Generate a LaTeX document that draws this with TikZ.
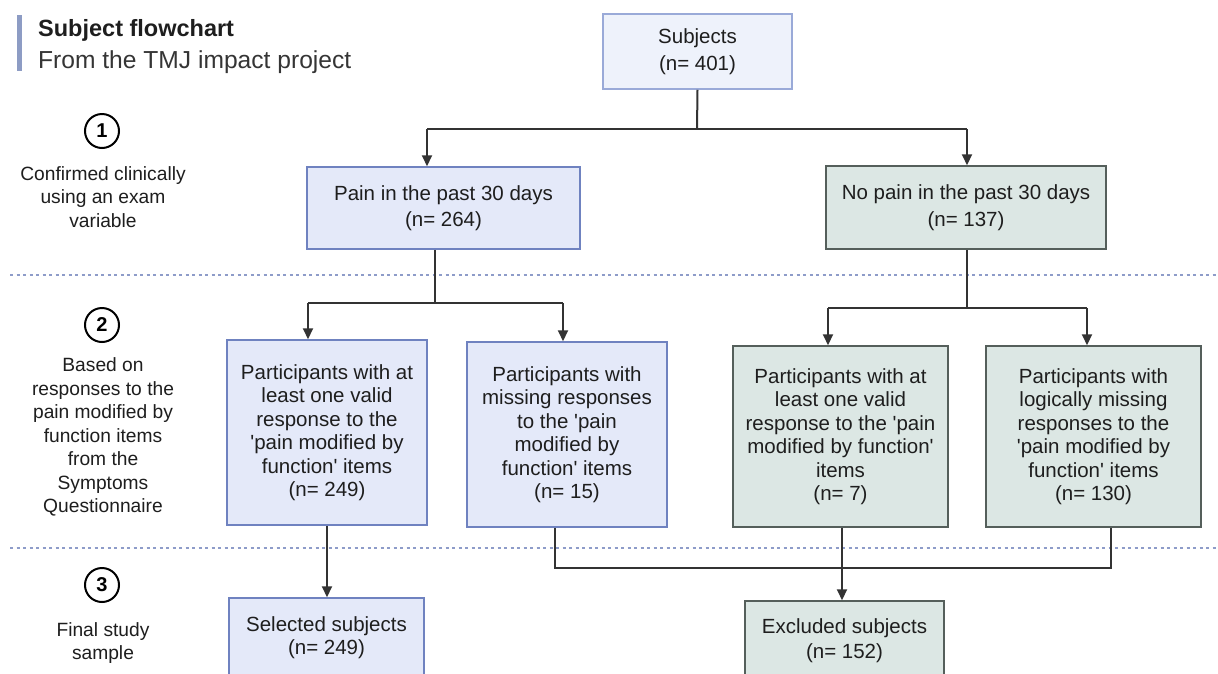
\documentclass[tikz,border=0pt]{standalone}
\usepackage{fontspec}
\setmainfont{Liberation Sans}[Ligatures=TeXOff]
\usetikzlibrary{arrows.meta}
\definecolor{txt}{HTML}{1E1E1E}
\definecolor{lnc}{HTML}{333333}
\definecolor{barc}{HTML}{8D9CC4}
\definecolor{dashc}{HTML}{8E9CC9}
\definecolor{subjfill}{HTML}{EEF2FB}
\definecolor{subjdraw}{HTML}{9AAAD8}
\definecolor{bluefill}{HTML}{E4E9F9}
\definecolor{bluedraw}{HTML}{6F82C0}
\definecolor{greenfill}{HTML}{DCE7E4}
\definecolor{greendraw}{HTML}{555F5B}
\tikzset{
  boxtext/.style={font=\fontsize{20.5}{23.5}\selectfont, text=txt, align=center, inner sep=0pt},
  bluebox/.style={boxtext, rectangle, fill=bluefill, draw=bluedraw, line width=1.5pt},
  greenbox/.style={boxtext, rectangle, fill=greenfill, draw=greendraw, line width=1.5pt},
  subjbox/.style={boxtext, rectangle, fill=subjfill, draw=subjdraw, line width=1.5pt},
  ln/.style={draw=lnc, line width=2pt},
  arr/.style={ln, -{Triangle[length=11pt,width=10pt]}},
  sep/.style={draw=dashc, line width=1.6pt, dash pattern=on 3pt off 3.5pt},
  stepnum/.style={circle, draw=black, line width=2pt, minimum size=34pt, inner sep=0pt, font=\fontsize{20}{20}\selectfont\bfseries, text=black},
  sidelabel/.style={font=\fontsize{19.2}{23.5}\selectfont, text=txt, align=center, inner sep=0pt},
}
\begin{document}
\begin{tikzpicture}[x=1pt,y=-1pt]
\useasboundingbox (0,0) rectangle (1218,673);
\fill[white] (0,0) rectangle (1218,673);
% title
\fill[barc] (17,15) rectangle (22,71);
\node[anchor=base west, inner sep=0pt, font=\fontsize{23.5}{23.5}\selectfont\bfseries, text=txt] (title) at (38,36) {Subject flowchart};
\node[anchor=base west, inner sep=0pt, font=\fontsize{24.6}{24.6}\selectfont, text=txt!90] (subtitle) at (38,68) {From the TMJ impact project};
% separators
\coordinate (s1a) at (10,275); \coordinate (s1b) at (1218,275);
\coordinate (s2a) at (10,548); \coordinate (s2b) at (1218,548);
\draw[sep] (s1a) -- (s1b);
\draw[sep] (s2a) -- (s2b);
% side labels
\node[stepnum] (n1) at (102,131) {1};
\node[sidelabel] (l1) at (103,197) {Confirmed clinically\\using an exam\\variable};
\node[stepnum] (n2) at (102,325) {2};
\node[sidelabel] (l2) at (103,437) {Based on\\responses to the\\pain modified by\\function items\\from the\\Symptoms\\Questionnaire};
\node[stepnum] (n3) at (102,585) {3};
\node[sidelabel] (l3) at (103,643) {Final study\\sample};
% boxes
\node[subjbox, minimum width=189pt, minimum height=75pt] (subj) at (697.5,51.5) {Subjects\\[3pt](n= 401)};
\node[bluebox, minimum width=273pt, minimum height=82pt] (pain) at (443.5,208) {Pain in the past 30 days\\[3pt](n= 264)};
\node[greenbox, minimum width=280pt, minimum height=83pt] (nopain) at (966,207.5) {No pain in the past 30 days\\[3pt](n= 137)};
\node[bluebox, minimum width=200pt, minimum height=185pt] (A) at (327,432.5) {Participants with at\\least one valid\\response to the\\'pain modified by\\function' items\\(n= 249)};
\node[bluebox, minimum width=200pt, minimum height=185pt] (B) at (567,434.5) {Participants with\\missing responses\\to the 'pain\\modified by\\function' items\\(n= 15)};
\node[greenbox, minimum width=215pt, minimum height=181pt] (C) at (840.5,436.5) {Participants with at\\least one valid\\response to the 'pain\\modified by function'\\items\\(n= 7)};
\node[greenbox, minimum width=215pt, minimum height=181pt] (D) at (1093.5,436.5) {Participants with\\logically missing\\responses to the\\'pain modified by\\function' items\\(n= 130)};
\node[bluebox, minimum width=195pt, minimum height=79pt] (sel) at (326.5,637.5) {Selected subjects\\(n= 249)};
\node[greenbox, minimum width=199pt, minimum height=79pt] (exc) at (844.5,640.5) {Excluded subjects\\[1.5pt](n= 152)};
% connectors stage 1
\coordinate (j1) at (697,129);
\coordinate (j1l) at (427,129);
\coordinate (j1r) at (967,129);
\draw[ln] (subj.south) -- (j1);
\draw[ln] (j1l) -- (j1r);
\draw[arr] (j1l) -- (j1l |- pain.north);
\draw[arr] (j1r) -- (j1r |- nopain.north);
% stage 2 left
\coordinate (j2) at (435,303);
\coordinate (j2l) at (308,303);
\coordinate (j2r) at (563,303);
\draw[ln] (j2 |- pain.south) -- (j2);
\draw[ln] (j2l) -- (j2r);
\draw[arr] (j2l) -- (j2l |- A.north);
\draw[arr] (j2r) -- (j2r |- B.north);
% stage 2 right
\coordinate (j3) at (967,308);
\coordinate (j3l) at (828,308);
\coordinate (j3r) at (1087,308);
\draw[ln] (j3 |- nopain.south) -- (j3);
\draw[ln] (j3l) -- (j3r);
\draw[arr] (j3l) -- (j3l |- C.north);
\draw[arr] (j3r) -- (j3r |- D.north);
% stage 3
\draw[arr] (A.south) -- (A.south |- sel.north);
\coordinate (k1) at (555,568);
\coordinate (k2) at (1111,568);
\coordinate (kc) at (842,568);
\draw[ln] (k1 |- B.south) -- (k1) -- (k2) -- (k2 |- D.south);
\draw[arr] (kc |- C.south) -- (kc |- exc.north);
\end{tikzpicture}
\end{document}
